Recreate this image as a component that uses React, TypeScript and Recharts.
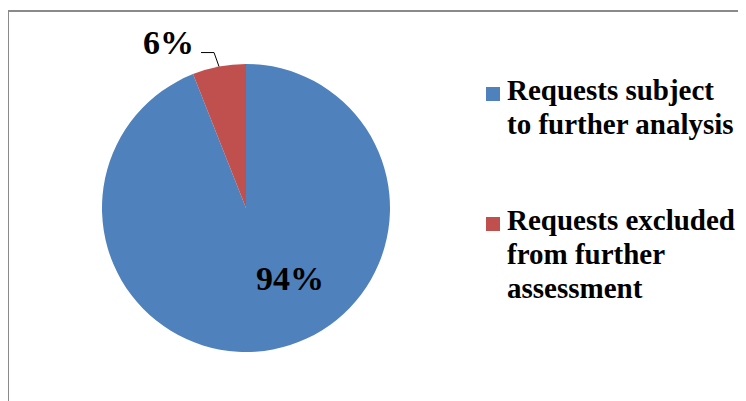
import { Cell, Legend, Pie, PieChart } from "recharts";

// Excel 2007 default palette
const CATEGORIES = [
  "Requests subject to further analysis",
  "Requests excluded from further assessment",
];
const SHARES = [94, 6];
const COLORS = ["#4F81BD", "#C0504D"];

const RADIAN = Math.PI / 180;
const FONT = '"Liberation Serif", "Times New Roman", serif';

const chartData = CATEGORIES.map((name, i) => ({ name, value: SHARES[i] }));

function renderLabel(props: any) {
  const { cx, cy, midAngle, outerRadius, index, value } = props;
  const text = `${value}%`;
  if (index === 0) {
    return (
      <text
        x={cx + 44}
        y={cy + 82}
        textAnchor="middle"
        fontFamily={FONT}
        fontWeight="bold"
        fontSize={34}
        fill="#000"
      >
        {text}
      </text>
    );
  }
  // small slice: label outside with a bent leader line
  const x = cx + outerRadius * Math.cos(-midAngle * RADIAN);
  const y = cy + outerRadius * Math.sin(-midAngle * RADIAN);
  return (
    <g>
      <polyline
        points={`${x},${y} ${x - 5},${y - 14} ${x - 18},${y - 14}`}
        fill="none"
        stroke="#000"
        strokeWidth={1}
      />
      <text
        x={x - 25}
        y={y - 13}
        textAnchor="end"
        fontFamily={FONT}
        fontWeight="bold"
        fontSize={34}
        fill="#000"
      >
        {text}
      </text>
    </g>
  );
}

function renderLegend() {
  return (
    <div style={{ fontFamily: FONT, fontWeight: "bold", fontSize: 29, lineHeight: "34px", color: "#000" }}>
      {CATEGORIES.map((name, i) => (
        <div key={name} style={{ display: "flex", alignItems: "flex-start", marginBottom: i === 0 ? 62 : 0 }}>
          <div
            style={{
              width: 14,
              height: 14,
              marginTop: 14,
              marginRight: 7,
              background: COLORS[i],
              flex: "none",
            }}
          />
          <div style={{ width: 232 }}>{name}</div>
        </div>
      ))}
    </div>
  );
}

export default function App() {
  return (
    <div style={{ position: "relative", width: 738, height: 393 }}>
      <div
        style={{
          position: "absolute",
          left: -1,
          top: 2,
          width: 739,
          height: 391,
          borderTop: "2px solid #8a8a8a",
          borderLeft: "2px solid #8a8a8a",
          boxSizing: "border-box",
        }}
      />
      <div style={{ position: "absolute", left: 0, top: 0 }}>
        <PieChart width={738} height={393} margin={{ top: 0, right: 0, bottom: 0, left: 0 }}>
          <Pie
            data={chartData}
            dataKey="value"
            nameKey="name"
            cx={238}
            cy={200}
            outerRadius={144}
            startAngle={90}
            endAngle={-270}
            stroke="none"
            label={renderLabel}
            labelLine={false}
            isAnimationActive={false}
          >
            {chartData.map((entry, i) => (
              <Cell key={entry.name} fill={COLORS[i]} />
            ))}
          </Pie>
          <Legend
            content={renderLegend}
            wrapperStyle={{ position: "absolute", left: 478, top: 65, width: 260 }}
          />
        </PieChart>
      </div>
    </div>
  );
}
